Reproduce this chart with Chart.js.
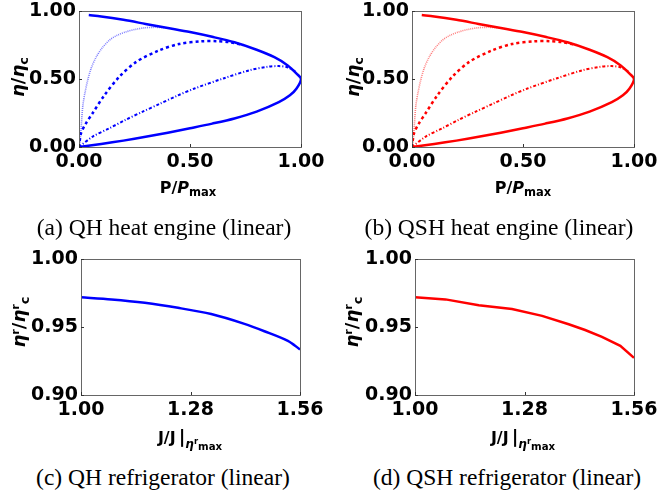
<!DOCTYPE html>
<html>
<head>
<meta charset="utf-8">
<script src="https://cdn.jsdelivr.net/npm/chart.js@4.4.0/dist/chart.umd.min.js"></script>
<style>
body { margin: 0; background: #fff; }
#wrap { position: relative; width: 657px; height: 496px; overflow: hidden; font-family: "DejaVu Sans", sans-serif; }
canvas { position: absolute; }
.cap { position: absolute; font-family: "Liberation Serif", "Times New Roman", serif; font-size: 23.5px; white-space: nowrap; transform: translate(-50%, -50%); line-height: 1; }
.xt { position: absolute; font-weight: bold; font-size: 16px; white-space: nowrap; transform: translate(-50%, -50%); line-height: 1; }
.yt { position: absolute; font-weight: bold; font-size: 18px; white-space: nowrap; transform: translate(-50%, -50%) rotate(-90deg); line-height: 1; }
.xt sub, .yt sub { font-size: 0.72em; vertical-align: -0.3em; }
.yt sup, .xt sup { font-size: 0.62em; vertical-align: 0.55em; }
.bar { font-size: 1.15em; margin-left: 3px; }
.tiny { font-size: 0.75em; vertical-align: -0.45em; }
.tiny sub { font-size: 0.85em; vertical-align: -0.2em; }
.tiny sup { font-size: 0.7em; vertical-align: 0.5em; }
</style>
</head>
<body>
<div id="wrap">
  <canvas id="qhEngine"></canvas>
  <canvas id="qshEngine"></canvas>
  <canvas id="qhFridge"></canvas>
  <canvas id="qshFridge"></canvas>

  <div class="yt" style="left:20px;top:77px"><i>η</i>/<i>η</i><sub>c</sub></div>
  <div class="yt" style="left:355px;top:77px"><i>η</i>/<i>η</i><sub>c</sub></div>
  <div class="yt" style="left:21px;top:322px"><i>η</i><sup>r</sup>/<i>η</i><sup>r</sup><sub>c</sub></div>
  <div class="yt" style="left:354px;top:322px"><i>η</i><sup>r</sup>/<i>η</i><sup>r</sup><sub>c</sub></div>

  <div class="xt" style="left:188px;top:189px">P/<i>P</i><sub>max</sub></div>
  <div class="xt" style="left:523px;top:189px">P/<i>P</i><sub>max</sub></div>
  <div class="xt" style="left:190px;top:440px">J/J<span class="bar">|</span><span class="tiny"><i>η</i><sup>r</sup><sub>max</sub></span></div>
  <div class="xt" style="left:523px;top:440px">J/J<span class="bar">|</span><span class="tiny"><i>η</i><sup>r</sup><sub>max</sub></span></div>

  <div class="cap" style="left:164px;top:228px">(a) QH heat engine (linear)</div>
  <div class="cap" style="left:499px;top:228px">(b) QSH heat engine (linear)</div>
  <div class="cap" style="left:163px;top:478px">(c) QH refrigerator (linear)</div>
  <div class="cap" style="left:507px;top:478px">(d) QSH refrigerator (linear)</div>
</div>
<script>
// heat engine loops (P/Pmax, eta/eta_c)
const outerP   = [0.044, 0.1, 0.2, 0.3, 0.4, 0.5, 0.6, 0.7, 0.8, 0.88, 0.94, 0.98, 1.0, 0.98, 0.95, 0.9, 0.8, 0.7, 0.6, 0.5, 0.4, 0.3, 0.2, 0.1, 0.0];
const outerEta = [0.97, 0.96, 0.935, 0.905, 0.875, 0.845, 0.81, 0.77, 0.715, 0.66, 0.6, 0.54, 0.5, 0.43, 0.38, 0.33, 0.26, 0.21, 0.172, 0.138, 0.105, 0.075, 0.047, 0.022, 0.0];

const dottedP   = [0, 0.005, 0.01, 0.017, 0.027, 0.039, 0.055, 0.077, 0.105, 0.137, 0.17, 0.21, 0.26, 0.3, 0.35, 0.4];
const dottedEta = [0, 0.05, 0.15, 0.3, 0.4, 0.49, 0.58, 0.66, 0.73, 0.785, 0.82, 0.846, 0.867, 0.877, 0.88, 0.875];

const dashedP   = [0, 0.009, 0.03, 0.062, 0.114, 0.182, 0.258, 0.36, 0.45, 0.55, 0.62, 0.68, 0.74];
const dashedEta = [0, 0.1, 0.17, 0.25, 0.38, 0.517, 0.626, 0.71, 0.757, 0.777, 0.778, 0.77, 0.75];

const dashDotP   = [0, 0.062, 0.137, 0.21, 0.287, 0.362, 0.44, 0.52, 0.65, 0.77, 0.85, 0.9, 0.94, 0.98];
const dashDotEta = [0, 0.077, 0.138, 0.2, 0.26, 0.316, 0.375, 0.43, 0.504, 0.565, 0.59, 0.595, 0.585, 0.55];

// refrigerators (J/J|eta_max, eta^r/eta^r_c)
const qhFridgeJ   = [1.0, 1.078, 1.163, 1.248, 1.333, 1.418, 1.469, 1.529, 1.56];
const qhFridgeEta = [0.9718, 0.9703, 0.9678, 0.9641, 0.9595, 0.9523, 0.9469, 0.9398, 0.9335];
const qshFridgeJ   = [1.0, 1.078, 1.163, 1.248, 1.325, 1.393, 1.435, 1.478, 1.525, 1.56];
const qshFridgeEta = [0.9718, 0.9703, 0.966, 0.9632, 0.9582, 0.952, 0.9478, 0.9427, 0.9361, 0.9273];

const engineTicks = [0, 0.5, 1];
const fridgeXTicks = [1.00, 1.28, 1.56];
const fridgeYTicks = [0.90, 0.95, 1.00];

const tickFont = { family: 'DejaVu Sans', size: 19, weight: 'bold' };

// room reserved around the plot inside each canvas
const Y_W = 62, PAD_T = 24, PAD_R = 30, X_H = 40;

function pts(xs, ys) {
    return xs.map((x, i) => ({ x: x, y: ys[i] }));
}

// box around the plot + small inward ticks
const frame = {
    id: 'frame',
    afterDraw(chart) {
        const a = chart.chartArea, ctx = chart.ctx;
        ctx.save();
        ctx.strokeStyle = '#666';
        ctx.lineWidth = 1;
        ctx.strokeRect(a.left + 0.5, a.top + 0.5, a.right - a.left, a.bottom - a.top);
        ctx.strokeStyle = '#333';
        chart.scales.x.ticks.forEach(t => {
            const px = Math.round(chart.scales.x.getPixelForValue(t.value)) + 0.5;
            ctx.beginPath(); ctx.moveTo(px, a.bottom); ctx.lineTo(px, a.bottom - 3); ctx.stroke();
        });
        chart.scales.y.ticks.forEach(t => {
            const py = Math.round(chart.scales.y.getPixelForValue(t.value)) + 0.5;
            ctx.beginPath(); ctx.moveTo(a.left, py); ctx.lineTo(a.left + 3, py); ctx.stroke();
        });
        ctx.restore();
    }
};

// box = plot area in page pixels
function makeChart(id, datasets, xr, yr, xTicks, yTicks, box) {
    const canvas = document.getElementById(id);
    const w = box.right - box.left, h = box.bottom - box.top;
    canvas.width = Y_W + w + PAD_R;
    canvas.height = PAD_T + h + X_H;
    canvas.style.left = (box.left - Y_W) + 'px';
    canvas.style.top = (box.top - PAD_T) + 'px';
    return new Chart(canvas, {
        type: 'scatter',
        data: { datasets: datasets },
        options: {
            responsive: false,
            animation: false,
            layout: { padding: { top: PAD_T, right: PAD_R, left: 0, bottom: 0 } },
            plugins: { legend: { display: false }, tooltip: { enabled: false } },
            elements: { point: { radius: 0 } },
            scales: {
                x: {
                    type: 'linear', min: xr[0], max: xr[1],
                    afterBuildTicks: s => { s.ticks = xTicks.map(v => ({ value: v })); },
                    afterFit: s => { s.height = X_H; },
                    grid: { display: false, drawTicks: false },
                    border: { display: false },
                    ticks: { font: tickFont, color: '#000', padding: 4, maxRotation: 0, autoSkip: false, callback: v => Number(v).toFixed(2) }
                },
                y: {
                    type: 'linear', min: yr[0], max: yr[1],
                    afterBuildTicks: s => { s.ticks = yTicks.map(v => ({ value: v })); },
                    afterFit: s => { s.width = Y_W; },
                    grid: { display: false, drawTicks: false },
                    border: { display: false },
                    ticks: { font: tickFont, color: '#000', padding: 3, autoSkip: false, callback: v => Number(v).toFixed(2) }
                }
            }
        },
        plugins: [frame]
    });
}

function engineSets(rgb) {
    return [
        { data: pts(dottedP, dottedEta), showLine: true, borderColor: 'rgba(' + rgb + ',0.5)', borderWidth: 1.6, borderDash: [1, 1], tension: 0.3 },
        { data: pts(dashedP, dashedEta), showLine: true, borderColor: 'rgb(' + rgb + ')', borderWidth: 2.5, borderDash: [3, 3], tension: 0.3 },
        { data: pts(dashDotP, dashDotEta), showLine: true, borderColor: 'rgb(' + rgb + ')', borderWidth: 2, borderDash: [3, 2, 1, 2], tension: 0.3 },
        { data: pts(outerP, outerEta), showLine: true, borderColor: 'rgb(' + rgb + ')', borderWidth: 2.5, tension: 0.3 }
    ];
}

makeChart('qhEngine', engineSets('0,0,255'), [0, 1], [0, 1], engineTicks, engineTicks,
    { left: 79, top: 11, right: 301, bottom: 147 });
makeChart('qshEngine', engineSets('255,0,0'), [0, 1], [0, 1], engineTicks, engineTicks,
    { left: 412, top: 11, right: 634, bottom: 147 });

makeChart('qhFridge', [
    { data: pts(qhFridgeJ, qhFridgeEta), showLine: true, borderColor: '#0000ff', borderWidth: 2.5, tension: 0.3 }
], [1.0, 1.56], [0.9, 1.0], fridgeXTicks, fridgeYTicks,
    { left: 81, top: 259, right: 300, bottom: 395 });
makeChart('qshFridge', [
    { data: pts(qshFridgeJ, qshFridgeEta), showLine: true, borderColor: '#ff0000', borderWidth: 2.5, tension: 0 }
], [1.0, 1.56], [0.9, 1.0], fridgeXTicks, fridgeYTicks,
    { left: 415, top: 259, right: 634, bottom: 395 });
</script>
</body>
</html>
